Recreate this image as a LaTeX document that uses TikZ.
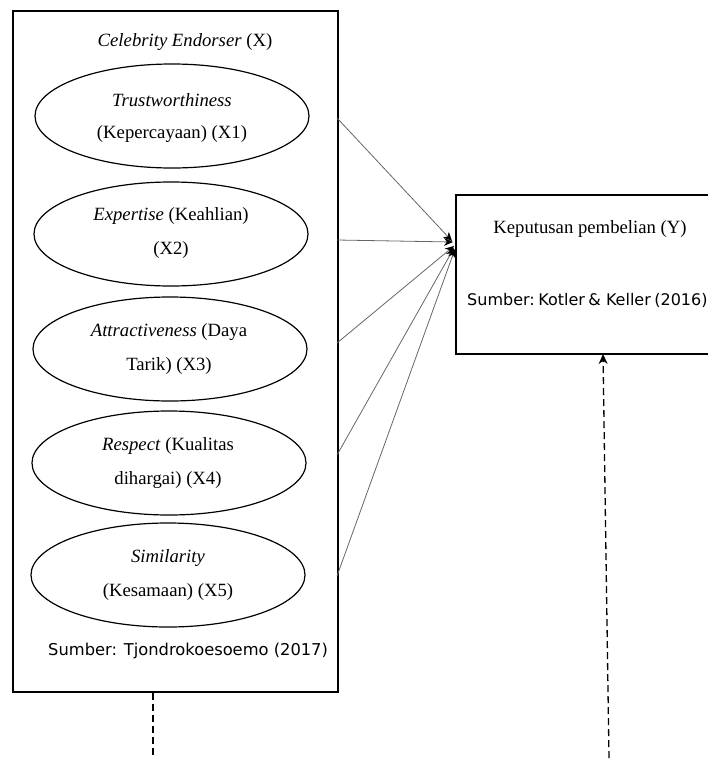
\documentclass[tikz,border=0pt]{standalone}
\usepackage{fontspec}
\setmainfont{Liberation Serif}
\newfontfamily\sumfont{DejaVu Sans}
\usetikzlibrary{shapes.geometric,arrows.meta}
\tikzset{
  frame/.style={draw=black,line width=1.5pt},
  oval/.style={draw=black,line width=1.2pt,ellipse,minimum width=274pt,minimum height=104pt,inner sep=0pt},
  serif/.style={font=\fontsize{18.7}{22}\selectfont,inner sep=0pt},
  src/.style={font=\sumfont\fontsize{16.3}{19}\selectfont,inner sep=0pt},
  srcsmall/.style={font=\sumfont\fontsize{16}{19}\selectfont,inner sep=0pt},
  link/.style={draw=gray!80!black,line width=0.8pt,-{Stealth[length=9pt,width=8pt,color=black]}},
  dashline/.style={draw=black,line width=1.3pt,dash pattern=on 7pt off 4pt}
}
\begin{document}
\begin{tikzpicture}[x=1pt,y=-1pt]
\useasboundingbox (0,0) rectangle (708,761);
% left frame
\node[frame,minimum width=325pt,minimum height=681pt,anchor=north west,inner sep=0pt] (bx) at (12,10) {};
\node[serif] (title) at (185,42) {\textit{Celebrity Endorser} (X)};
% ellipses
\node[oval] (e1) at (172,116) {};
\node[oval] (e2) at (171,234) {};
\node[oval] (e3) at (170,349) {};
\node[oval] (e4) at (169,463) {};
\node[oval] (e5) at (168,575) {};
\node[serif] (t1a) at (172,100) {\textit{Trustworthiness}};
\node[serif] (t1b) at (172,134) {(Kepercayaan) (X1)};
\node[serif] (t2a) at (171,216) {\textit{Expertise} (Keahlian)};
\node[serif] (t2b) at (171,250) {(X2)};
\node[serif] (t3a) at (169,332) {\textit{Attractiveness} (Daya};
\node[serif] (t3b) at (169,366) {Tarik) (X3)};
\node[serif] (t4a) at (168,446) {\textit{Respect} (Kualitas};
\node[serif] (t4b) at (168,480) {dihargai) (X4)};
\node[serif] (t5a) at (168,558) {\textit{Similarity}};
\node[serif] (t5b) at (168,592) {(Kesamaan) (X5)};
\node[src,anchor=west] (s1) at (48,651) {Sumber: Tjondrokoesoemo (2017)};
% right box
\begin{scope}
\clip (0,0) rectangle (708,761);
\node[frame,minimum width=270pt,minimum height=159pt,anchor=north west,inner sep=0pt] (yb) at (455,194) {};
\end{scope}
\node[serif] (yt) at (590,229) {Keputusan pembelian (Y)};
\node[srcsmall,anchor=west] (ys) at (467,300) {Sumber:\hspace{0.22em}Kotler\hspace{0.22em}\&~Keller\hspace{0.22em}(2016)};
% connector coordinates
\coordinate (a1) at (337,118);
\coordinate (a2) at (337,240);
\coordinate (a3) at (337,343);
\coordinate (a4) at (337,455);
\coordinate (a5) at (337,576);
\coordinate (b1) at (452,241);
\coordinate (b2) at (453,242);
\coordinate (b3) at (454,246);
\coordinate (b4) at (454,248);
\coordinate (b5) at (455,249);
\draw[link] (a1) -- (b1);
\draw[link] (a2) -- (b2);
\draw[link] (a3) -- (b3);
\draw[link] (a4) -- (b4);
\draw[link] (a5) -- (b5);
% dashed lines
\coordinate (d1) at (153,758);
\draw[dashline] (bx.south -| d1) -- (d1);
\coordinate (d2) at (609,758);
\coordinate (d2t) at (603,354);
\draw[dashline,-{Stealth[length=10pt,width=9pt]}] (d2) -- (d2t);
\end{tikzpicture}
\end{document}
